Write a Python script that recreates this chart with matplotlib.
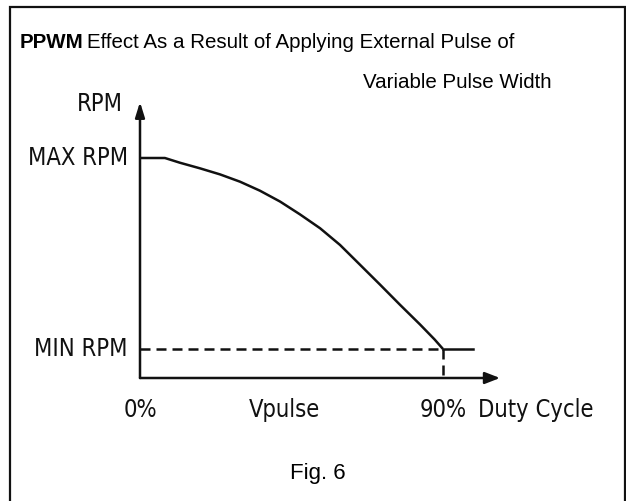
import matplotlib
matplotlib.use("Agg")
import matplotlib.pyplot as plt
from matplotlib.patches import Rectangle

# curve: duty cycle (%) vs rpm (0 = MIN RPM, 1 = MAX RPM)
duty = [0, 7.4, 11.9, 17.8, 23.8, 29.7, 35.6, 41.6, 47.5, 53.5, 59.4, 65.3, 71.3, 77.2, 83.2, 87.5, 90]
rpm = [1.0, 1.0, 0.975, 0.946, 0.914, 0.876, 0.829, 0.772, 0.705, 0.632, 0.545, 0.442, 0.337, 0.232, 0.128, 0.05, 0.0]
min_rpm_end = 99  # solid piece after 90%
x_ticks = [0, 42.8, 90]
x_tick_labels = ["0%", "Vpulse", "90%"]
y_ticks = [0, 1]
y_tick_labels = ["MIN RPM", "MAX RPM"]

W, H = 626, 501
fig = plt.figure(figsize=(W / 100, H / 100), dpi=100)
ax = fig.add_axes([0, 0, 1, 1])
ax.axis("off")

# pixel <-> data mapping
px0, pxs = 140, 303 / 90
py0, pys = 349, 191
ax.set_xlim((0 - px0) / pxs, (W - px0) / pxs)
ax.set_ylim((py0 - H) / pys, py0 / pys)

x_axis_y = (py0 - 378) / pys
x_end = (500 - px0) / pxs
y_top = (py0 - 102) / pys

lw = 1.8
ax.plot(duty, rpm, color="#111111", lw=lw, solid_capstyle="butt", solid_joinstyle="round")
ax.plot([duty[-1], min_rpm_end], [0, 0], color="#111111", lw=lw)
ax.plot([0, duty[-1]], [0, 0], color="#111111", lw=lw, dashes=(4, 2.4))
ax.plot([duty[-1], duty[-1]], [0, x_axis_y], color="#111111", lw=lw, dashes=(4, 2.4))

# axes with arrows
ax.annotate("", xy=(x_end, x_axis_y), xytext=(0, x_axis_y),
            arrowprops=dict(arrowstyle="-|>,head_length=0.9,head_width=0.35", color="#111111",
                            lw=lw, shrinkA=0, shrinkB=0))
ax.annotate("", xy=(0, y_top), xytext=(0, x_axis_y),
            arrowprops=dict(arrowstyle="-|>,head_length=0.9,head_width=0.28", color="#111111",
                            lw=lw, shrinkA=0, shrinkB=0))

lab = dict(family="DejaVu Sans", fontstretch="condensed", fontsize=17, color="#111111")
for v, t in zip(y_ticks, y_tick_labels):
    ax.text((128 - px0) / pxs, v, t, ha="right", va="center", **lab)
ax.text((123 - px0) / pxs, (py0 - 104) / pys, "RPM", ha="right", va="center", **lab)
xl_y = (py0 - 410) / pys
for v, t in zip(x_ticks, x_tick_labels):
    ax.text(v, xl_y, t, ha="center", va="center", **lab)
ax.text((478 - px0) / pxs, xl_y, "Duty Cycle", ha="left", va="center", **lab)

# border
fig.patches.append(Rectangle((10 / W, -0.05), 615 / W, 1 - 7 / H + 0.05, transform=fig.transFigure,
                             fill=False, edgecolor="#111111", lw=1.6))

tfont = ["Liberation Sans", "DejaVu Sans"]
fig.text(20 / W, 1 - 42 / H, "PPWM", family=tfont, fontsize=14.8, weight="bold", va="center")
fig.text(87 / W, 1 - 42 / H, "Effect As a Result of Applying External Pulse of", family=tfont,
         fontsize=14.8, va="center")
fig.text(552 / W, 1 - 82 / H, "Variable Pulse Width", family=tfont, fontsize=14.8, ha="right", va="center")
fig.text(318 / W, 1 - 474 / H, "Fig. 6", family=tfont, fontsize=16, ha="center", va="center")

fig.savefig("out.png", dpi=100)
